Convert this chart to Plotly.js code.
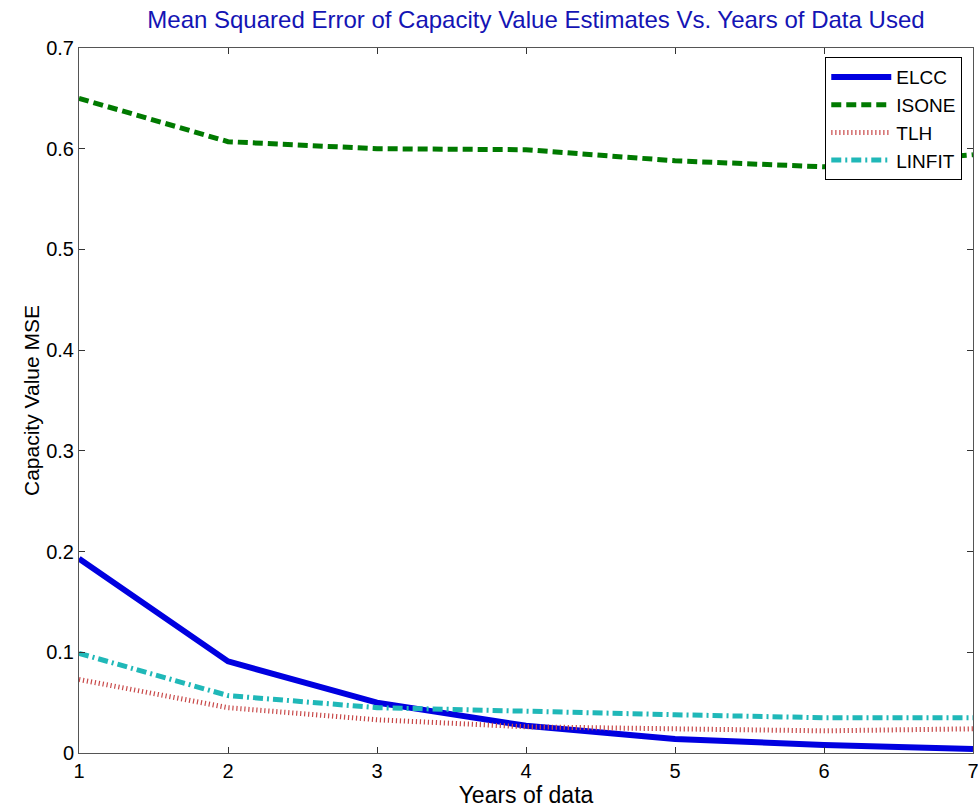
<!DOCTYPE html>
<html>
<head>
<meta charset="utf-8">
<script src="https://cdn.plot.ly/plotly-3.0.1.min.js"></script>
<style>html,body{margin:0;padding:0;background:#fff;}#chart{width:978px;height:812px;}</style>
</head>
<body>
<div id="chart"></div>
<script>
const years = [1, 2, 3, 4, 5, 6, 7];
const elcc   = [0.193, 0.091, 0.050, 0.027, 0.014, 0.008, 0.004];
const isone  = [0.650, 0.607, 0.600, 0.599, 0.588, 0.582, 0.594];
const tlh    = [0.073, 0.045, 0.033, 0.026, 0.024, 0.022, 0.024];
const linfit = [0.099, 0.057, 0.045, 0.041, 0.038, 0.035, 0.035];
const seriesNames = ['ELCC', 'ISONE', 'TLH', 'LINFIT'];
const yTicks = [0, 0.1, 0.2, 0.3, 0.4, 0.5, 0.6, 0.7];

const FONT = 'Arial, Liberation Sans, sans-serif';

const traces = [
  {x: years, y: elcc, name: seriesNames[0], mode: 'lines', line: {color: '#0000e0', width: 6, dash: 'solid'}},
  {x: years, y: isone, name: seriesNames[1], mode: 'lines', line: {color: '#007a00', width: 5, dash: '10px,5px'}},
  {x: years, y: tlh, name: seriesNames[2], mode: 'lines', line: {color: '#c84848', width: 5, dash: '1.2px,2.8px'}},
  {x: years, y: linfit, name: seriesNames[3], mode: 'lines', line: {color: '#20b8b8', width: 5, dash: '10px,4px,2px,4px'}}
];

const axisCommon = {
  showgrid: false, zeroline: false, showline: true, linecolor: '#555', linewidth: 1,
  mirror: 'ticks', ticks: 'inside', ticklen: 6, tickcolor: '#333',
  ticklabeloverflow: 'allow',
  tickfont: {family: FONT, size: 20, color: '#000'}
};

const layout = {
  width: 978, height: 812,
  margin: {l: 79, r: 5, t: 48, b: 59},
  paper_bgcolor: '#fff', plot_bgcolor: '#fff',
  font: {family: FONT, color: '#000'},
  title: {text: 'Mean Squared Error of Capacity Value Estimates Vs. Years of Data Used',
    font: {size: 24, color: '#1414b4', family: FONT},
    x: 0.548, xanchor: 'center', y: 0.976, yanchor: 'middle'},
  xaxis: Object.assign({}, axisCommon, {range: [1, 7], tickvals: years, ticktext: years.map(String),
    title: {text: 'Years of data', font: {size: 23}, standoff: 2}}),
  yaxis: Object.assign({}, axisCommon, {range: [0, 0.7], tickvals: yTicks, ticktext: yTicks.map(v => v === 0 ? '0' : v.toFixed(1)),
    title: {text: 'Capacity Value MSE', font: {size: 21}, standoff: 0}}),
  showlegend: true,
  legend: {x: 0.988, xanchor: 'right', y: 0.987, yanchor: 'top', bgcolor: '#fff', bordercolor: '#000', borderwidth: 1,
    font: {size: 19, family: FONT}, tracegroupgap: 0, itemwidth: 60}
};

Plotly.newPlot('chart', traces, layout, {displayModeBar: false, staticPlot: true});
</script>
</body>
</html>
